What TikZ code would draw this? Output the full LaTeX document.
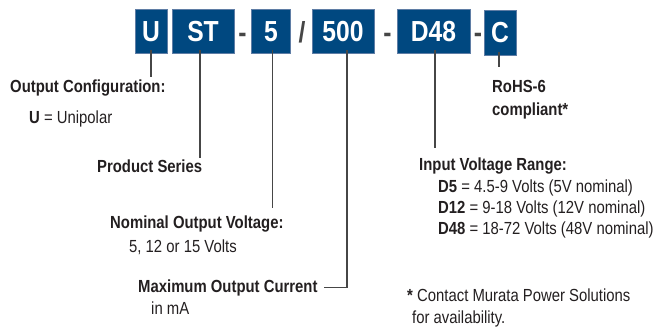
\documentclass[tikz,border=0pt]{standalone}
\usepackage{fontspec}
\setmainfont[FakeStretch=0.85]{Liberation Sans}
\definecolor{mblue}{RGB}{0,72,128}
\definecolor{medge}{RGB}{95,125,165}
\definecolor{mtext}{RGB}{35,31,32}
\definecolor{mline}{RGB}{70,70,70}
\begin{document}
\begin{tikzpicture}[x=1pt,y=-1pt,
  codebox/.style={fill=mblue,draw=medge,line width=0.7pt,text=white,
    font=\fontsize{29}{29}\selectfont\bfseries,text height=20.5pt,text depth=0pt,
    minimum height=44pt,inner xsep=0pt},
  sepmark/.style={anchor=base,inner sep=0pt,text=mline,font=\fontsize{29}{29}\selectfont\bfseries},
  lbl/.style={anchor=base west,inner sep=0pt,text=mtext,font=\fontsize{17.5}{21}\selectfont},
  blbl/.style={lbl,font=\fontsize{17.5}{21}\selectfont\bfseries},
  conn/.style={draw=mline,line width=1.2pt}]
\useasboundingbox (0,0) rectangle (658,327);
% code boxes
\node[codebox,minimum width=32pt] (u)   at (151,31) {U};
\node[codebox,minimum width=62pt] (st)  at (203,31) {ST};
\node[codebox,minimum width=39pt] (v5)  at (271,31) {5};
\node[codebox,minimum width=62pt] (i500) at (343,31) {500};
\node[codebox,minimum width=73pt] (d48) at (433.5,31) {D48};
\node[codebox,minimum width=32pt,minimum height=45pt] (c) at (500,32.5) {C};
% separators
\node[sepmark] (s1) at (242.5,42) {-};
\node[sepmark] (s2) at (302,42) {/};
\node[sepmark] (s3) at (387.5,42) {-};
\node[sepmark] (s4) at (478,42) {-};
% labels
\node[blbl] (ocfg) at (10,92) {Output Configuration:};
\node[lbl]  (ocfg2) at (29,123) {\textbf{U} = Unipolar};
\node[blbl] (pser) at (97,172) {Product Series};
\node[blbl] (nov) at (110,228) {Nominal Output Voltage:};
\node[lbl]  (nov2) at (129,252) {5, 12 or 15 Volts};
\node[blbl] (mcur) at (138,292) {Maximum Output Current};
\node[lbl]  (mcur2) at (151,314) {in mA};
\node[blbl] (rohs) at (492,92) {RoHS-6};
\node[blbl] (rohs2) at (492,115) {compliant*};
\node[blbl] (ivr) at (419,170) {Input Voltage Range:};
\node[lbl]  (ivr1) at (438,192) {\textbf{D5} = 4.5-9 Volts (5V nominal)};
\node[lbl]  (ivr2) at (438,213) {\textbf{D12} = 9-18 Volts (12V nominal)};
\node[lbl]  (ivr3) at (438,234) {\textbf{D48} = 18-72 Volts (48V nominal)};
\node[lbl]  (note1) at (407,301) {\textbf{*} Contact Murata Power Solutions};
\node[lbl]  (note2) at (412,323) {for availability.};
% connector ends
\coordinate (eu) at (151,77);
\coordinate (est) at (200,158);
\coordinate (ev5) at (272.7,208);
\coordinate (ed48) at (435,148);
\coordinate (ec) at (499,67);
% connectors
\draw[conn] ([yshift=3pt]u.south) -- (eu);
\draw[conn] ([yshift=3pt]st.south -| est) -- (est);
\draw[conn] ([yshift=3pt]v5.south -| ev5) -- (ev5);
\draw[conn] ([xshift=4pt,yshift=3pt]i500.south) |- ([xshift=6pt]mcur.east);
\draw[conn] ([yshift=3pt]d48.south -| ed48) -- (ed48);
\draw[conn] ([yshift=3pt]c.south -| ec) -- (ec);
\end{tikzpicture}
\end{document}
